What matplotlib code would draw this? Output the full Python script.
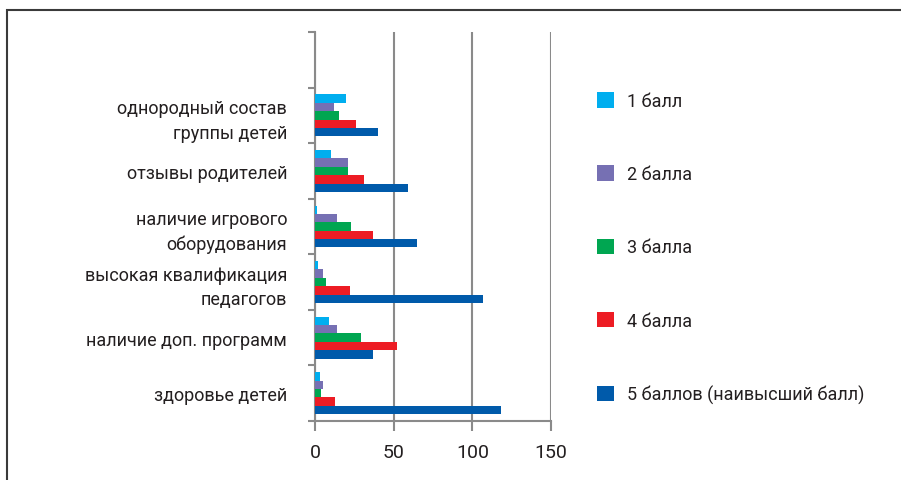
import numpy as np
import matplotlib
matplotlib.use("Agg")
import matplotlib.pyplot as plt
from matplotlib.patches import Rectangle

plt.rcParams['font.family'] = ['Roboto', 'DejaVu Sans']

# data (bottom to top on the chart)
categories = [
    "здоровье детей",
    "наличие доп. программ",
    "высокая квалификация\nпедагогов",
    "наличие игрового\nоборудования",
    "отзывы родителей",
    "однородный состав\nгруппы детей",
]
series_names = ["1 балл", "2 балла", "3 балла", "4 балла", "5 баллов (наивысший балл)"]
ball1 = [3, 9, 2, 1, 10, 20]
ball2 = [5, 14, 5, 14, 21, 12]
ball3 = [4, 29, 7, 23, 21, 15]
ball4 = [13, 52, 22, 37, 31, 26]
ball5 = [118, 37, 107, 65, 59, 40]
colors = ["#00AEEF", "#7670B3", "#00A651", "#ED1C24", "#005AAA"]

TEXT = "#231F20"
GRID = "#8A8A8A"
FS = 13

fig = plt.figure(figsize=(9.01, 4.81), dpi=100)
ax = fig.add_axes([315 / 901, 1 - 422 / 481, 236 / 901, 389 / 481])

n_slots = len(categories) + 1  # empty slot on top
bar_h = 0.151
centers = np.arange(len(categories)) + 0.5
handles = []
for k, vals in enumerate([ball1, ball2, ball3, ball4, ball5]):
    b = ax.barh(centers + (2 - k) * bar_h, vals, height=bar_h,
                color=colors[k], label=series_names[k], zorder=3)
    handles.append(b)

ax.set_xlim(0, 150)
ax.set_ylim(0, n_slots)
ax.set_xticks([0, 50, 100, 150])
ax.set_xticklabels(["0", "50", "100", "150"])
ax.set_yticks(np.arange(n_slots + 1))
ax.set_yticklabels([])
ax.set_yticks(centers, minor=True)
ax.set_yticklabels(categories, minor=True, ha="right", linespacing=1.45)
ax.tick_params(axis="y", which="minor", length=0, pad=20, labelsize=FS, colors=TEXT)
ax.tick_params(axis="y", which="major", length=5, width=1.5, color=GRID)
ax.tick_params(axis="x", length=7, width=1.5, color=GRID, pad=9, labelsize=FS + 1, labelcolor=TEXT)

ax.grid(axis="x", color=GRID, linewidth=1.5, zorder=1)
for s in ["top", "right"]:
    ax.spines[s].set_visible(False)
for s in ["left", "bottom"]:
    ax.spines[s].set_color(GRID)
    ax.spines[s].set_linewidth(1.5)

fig.legend(handles=handles, loc="upper left", bbox_to_anchor=(597 / 901, 1 - 93 / 481),
           frameon=False, fontsize=FS, labelcolor=TEXT, handlelength=0.94,
           handleheight=0.94, handletextpad=0.72, labelspacing=3.06, borderpad=0,
           borderaxespad=0)

# outer frame
fig.patches.append(Rectangle((7 / 901, -0.1), 1.2, 1 - 11 / 481 + 0.1,
                             transform=fig.transFigure, fill=False,
                             edgecolor="#3a3a3a", linewidth=1.5))

fig.savefig("out.png", dpi=100)
